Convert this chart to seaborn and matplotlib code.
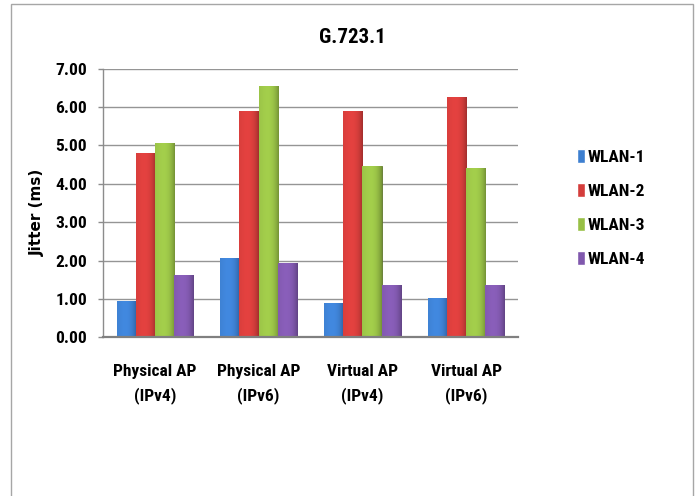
import numpy as np
import pandas as pd
import matplotlib
matplotlib.use("Agg")
import matplotlib.pyplot as plt
import matplotlib.colors as mcolors
from matplotlib.patches import Rectangle
import seaborn as sns

# Jitter per access-point setup and WLAN
categories = ["Physical AP\n(IPv4)", "Physical AP\n(IPv6)", "Virtual AP\n(IPv4)", "Virtual AP\n(IPv6)"]
series = ["WLAN-1", "WLAN-2", "WLAN-3", "WLAN-4"]
wlan1 = [0.95, 2.06, 0.89, 1.02]
wlan2 = [4.80, 5.90, 5.90, 6.26]
wlan3 = [5.06, 6.55, 4.46, 4.41]
wlan4 = [1.62, 1.95, 1.36, 1.36]
yticks = [0, 1, 2, 3, 4, 5, 6, 7]
colors = ["#3d7fd0", "#d43d3b", "#98c046", "#8058ad"]

df = pd.DataFrame({
    "setup": categories * 4,
    "wlan": [s for s in series for _ in categories],
    "jitter": wlan1 + wlan2 + wlan3 + wlan4,
})

sns.set_theme(style="white")
NARROW = ["Liberation Sans Narrow", "DejaVu Sans Condensed", "Roboto Condensed",
          "Lato", "DejaVu Sans"]
plt.rcParams["font.family"] = NARROW
plt.rcParams["text.color"] = "black"

fig = plt.figure(figsize=(6.98, 4.96), dpi=100)
ax = fig.add_axes([0.1476, 0.3196, 0.5944, 0.5419])

sns.barplot(data=df, x="setup", y="jitter", hue="wlan", hue_order=series,
            order=categories, palette=colors, width=0.74, gap=0,
            saturation=1, errorbar=None, ax=ax)

# shaded gradient on each bar: lighter left, darker right edge
for patch in ax.patches:
    w = patch.get_width()
    h = patch.get_height()
    if h <= 0:
        continue
    x0 = patch.get_x()
    base = np.array(mcolors.to_rgb(patch.get_facecolor()))
    t = np.linspace(0, 1, 64)
    shade = 1.02 + 0.07 * np.sin(np.pi * t * 0.9) - 0.28 * t ** 4
    grad = np.clip(base[None, :] * shade[:, None], 0, 1)[None, :, :]
    im = ax.imshow(grad, extent=[x0, x0 + w, 0, h], aspect="auto",
                   zorder=patch.get_zorder() + 0.1, interpolation="bilinear")
    im.set_clip_path(patch)
    patch.set_edgecolor(tuple(base * 0.6))
    patch.set_linewidth(0.6)

ax.set_xlim(-0.5, len(categories) - 0.5)
ax.set_ylim(0, 7)
ax.set_yticks(yticks)
ax.set_yticklabels([f"{v:.2f}" for v in yticks], fontsize=12.5,
                   fontweight="bold", family=NARROW)
ax.set_xticks(range(len(categories)))
ax.set_xticklabels(categories, fontsize=12.5, fontweight="bold",
                   family=NARROW, linespacing=1.65)
ax.set_xlabel("")
ax.set_ylabel("")

ax.set_axisbelow(True)
ax.yaxis.grid(True, color="#959595", linewidth=1.0)
ax.xaxis.grid(False)
for side in ["top", "right"]:
    ax.spines[side].set_visible(False)
ax.spines["left"].set_color("#8c8c8c")
ax.spines["left"].set_linewidth(1.0)
ax.spines["bottom"].set_color("#808080")
ax.spines["bottom"].set_linewidth(1.6)
ax.tick_params(axis="y", which="both", left=True, length=3.5, width=1.0,
               color="#8c8c8c", pad=8, labelcolor="black")
ax.tick_params(axis="x", which="both", bottom=False, pad=13, labelcolor="black")

# legend at right of the plot
handles, labels = ax.get_legend_handles_labels()
if ax.get_legend() is not None:
    ax.get_legend().remove()
fig.legend(handles, labels, loc="center left",
           bbox_to_anchor=(577 / 698, 1 - 208 / 496),
           frameon=False, borderpad=0, borderaxespad=0,
           handlelength=0.45, handleheight=0.85, handletextpad=0.15,
           labelspacing=1.05, labelcolor="black",
           prop={"family": NARROW, "weight": "bold", "size": 12.5})

fig.text(352.5 / 698, 1 - 37.5 / 496, "G.723.1", ha="center", va="center",
         fontsize=15, fontweight="bold", family=NARROW, color="black")
fig.text(37 / 698, 1 - 212 / 496, "Jitter (ms)", ha="center", va="center",
         rotation=90, fontsize=11, fontweight="bold", family="DejaVu Sans",
         color="black")

# chart frame
fig.patches.append(Rectangle((11 / 698, -0.05), (693 - 11) / 698, 1.05 - 4.5 / 496,
                             transform=fig.transFigure, fill=False,
                             edgecolor="#a6a6a6", linewidth=1.0))

fig.savefig("out.png", dpi=100)
